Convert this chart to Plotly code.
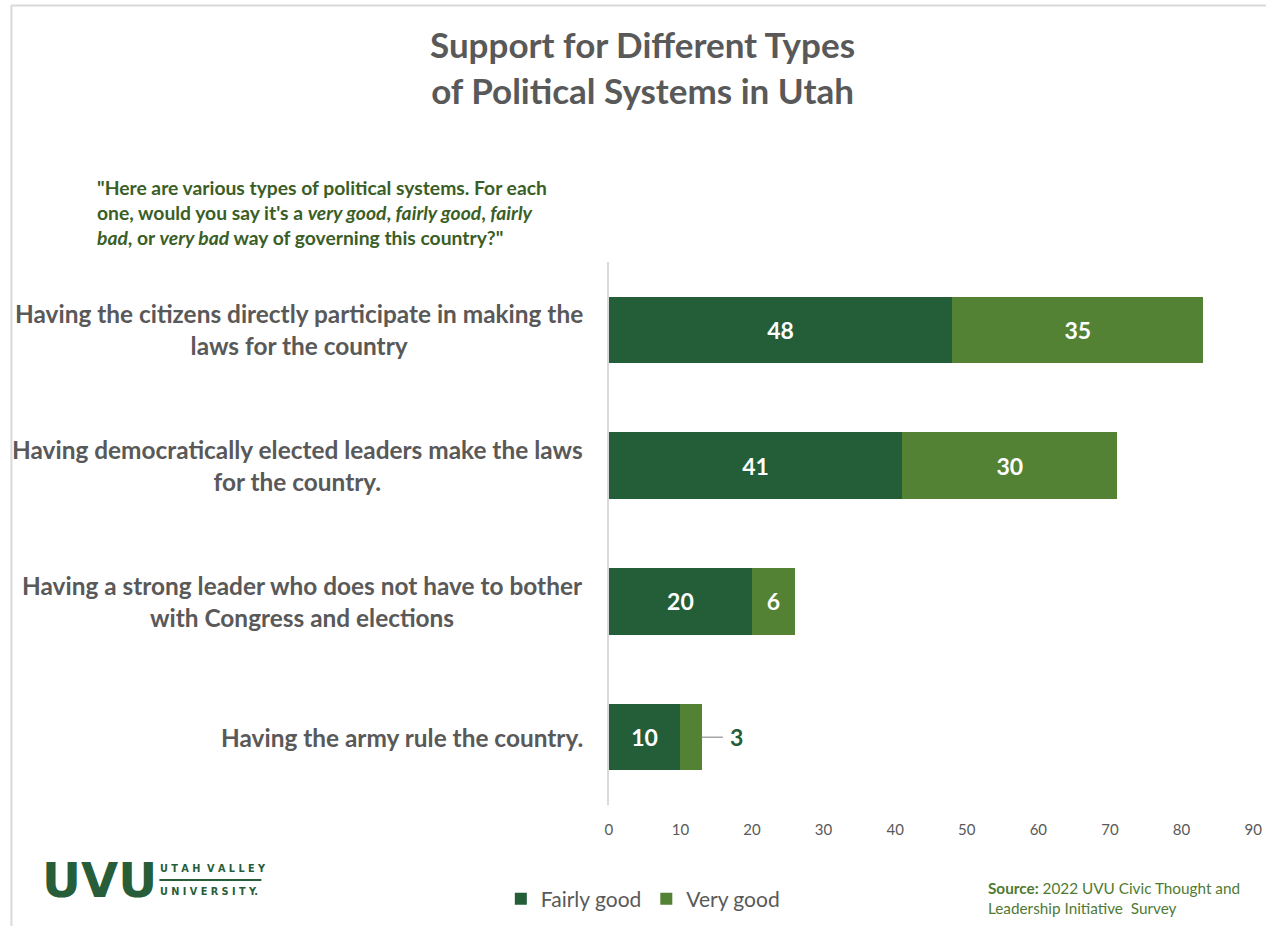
import plotly.graph_objects as go

categories = [
    "Having the citizens directly participate in making the<br>laws for the country",
    "Having democratically elected leaders make the laws<br>for the country.",
    "Having a strong leader who does not have to bother<br>with Congress and elections",
    "Having the army rule the country.",
]
fairly_good = [48, 41, 20, 10]
very_good = [35, 30, 6, 3]
series_names = ["Fairly good", "Very good"]
x_ticks = [0, 10, 20, 30, 40, 50, 60, 70, 80, 90]

DARK = "#245E39"
LIGHT = "#548235"
GREY = "#595959"
FONT = "Lato"
W, H = 1278, 926

fig = go.Figure()
fig.add_trace(go.Bar(
    y=categories, x=fairly_good, orientation="h", name=series_names[0],
    marker=dict(color=DARK, line=dict(width=0)),
    text=[str(v) for v in fairly_good], textposition="inside", insidetextanchor="middle",
    textfont=dict(family=FONT, size=23, color="white", weight="bold"),
    width=0.49,
))
vg_text = [str(v) if v >= 5 else "" for v in very_good]
fig.add_trace(go.Bar(
    y=categories, x=very_good, orientation="h", name=series_names[1],
    marker=dict(color=LIGHT, line=dict(width=0)),
    text=vg_text, textposition="inside", insidetextanchor="middle",
    textfont=dict(family=FONT, size=23, color="white", weight="bold"),
    width=0.49,
))

annotations = []
# small-value callout
for cat, f, v in zip(categories, fairly_good, very_good):
    if v < 5:
        annotations.append(dict(
            x=f + v, y=cat, xref="x", yref="y", text="<b>%d</b>" % v,
            showarrow=True, arrowhead=0, arrowwidth=1.5, arrowcolor="#a6a6a6",
            ax=35, ay=0, standoff=0, borderpad=7,
            font=dict(family=FONT, size=23, color=DARK),
        ))

# category labels
for cat in categories:
    annotations.append(dict(
        x=587 / W, y=cat, xref="paper", yref="y", text="<b>%s</b>" % cat,
        showarrow=False, xanchor="right", align="center",
        font=dict(family=FONT, size=24.4, color=GREY),
    ))

# title
annotations.append(dict(
    x=645 / W, y=1 - 67 / H, xref="paper", yref="paper",
    text="<b>Support for Different Types<br>of Political Systems in Utah</b>",
    showarrow=False, xanchor="center", yanchor="middle", align="center",
    font=dict(family=FONT, size=35, color=GREY),
))
# question
annotations.append(dict(
    x=92 / W, y=1 - 213 / H, xref="paper", yref="paper",
    text=("<b>\"Here are various types of political systems. For each<br>"
          "one, would you say it's a <i>very good</i>, <i>fairly good</i>, <i>fairly</i><br>"
          "<i>bad</i>, or <i>very bad</i> way of governing this country?\"</b>"),
    showarrow=False, xanchor="left", yanchor="middle", align="left",
    font=dict(family=FONT, size=19.3, color="#3A5E26"),
))
# source
annotations.append(dict(
    x=992 / W, y=1 - 898 / H, xref="paper", yref="paper",
    text="<b>Source:</b> 2022 UVU Civic Thought and<br>Leadership Initiative  Survey",
    showarrow=False, xanchor="left", yanchor="middle", align="left",
    font=dict(family=FONT, size=15.3, color="#4F7A34"),
))
# logo
annotations.append(dict(
    x=36 / W, y=1 - 880 / H, xref="paper", yref="paper",
    text="<b>UVU</b>", showarrow=False, xanchor="left", yanchor="middle",
    font=dict(family="DejaVu Sans", size=48, color="#275D38"),
))
annotations.append(dict(
    x=156 / W, y=1 - 868 / H, xref="paper", yref="paper",
    text="<b>U T A H  V A L L E Y</b>", showarrow=False, xanchor="left", yanchor="middle",
    font=dict(family="DejaVu Sans Condensed", size=10.8, color="#275D38"),
))
annotations.append(dict(
    x=156 / W, y=1 - 891 / H, xref="paper", yref="paper",
    text="<b>U N I V E R S I T Y.</b>", showarrow=False, xanchor="left", yanchor="middle",
    font=dict(family="DejaVu Sans Condensed", size=10.8, color="#275D38"),
))

shapes = [
    dict(type="line", xref="paper", yref="paper", x0=7.5 / W, x1=7.5 / W, y0=0, y1=1 - 5.5 / H,
         line=dict(color="#d9d9d9", width=2)),
    dict(type="line", xref="paper", yref="paper", x0=7 / W, x1=1275 / W, y0=1 - 5.5 / H, y1=1 - 5.5 / H,
         line=dict(color="#d9d9d9", width=2)),
    dict(type="line", xref="paper", yref="paper", x0=157 / W, x1=260 / W, y0=1 - 880 / H, y1=1 - 880 / H,
         line=dict(color="#275D38", width=2)),
]

fig.update_layout(
    width=W, height=H,
    barmode="stack",
    margin=dict(l=0, r=0, t=0, b=0),
    paper_bgcolor="white", plot_bgcolor="white",
    font=dict(family=FONT, color=GREY),
    xaxis=dict(domain=[611 / W, 1262 / W], range=[0, 90], tickvals=x_ticks,
               showgrid=False, zeroline=False, showline=False, ticks="",
               ticklabelstandoff=14,
               tickfont=dict(family=FONT, size=15, color=GREY)),
    yaxis=dict(domain=[1 - 805 / H, 1 - 262 / H], categoryorder="array",
               categoryarray=categories, autorange="reversed",
               showticklabels=False, showgrid=False, zeroline=False,
               showline=True, linecolor="#d9d9d9", linewidth=1.5, ticks=""),
    legend=dict(orientation="h", x=0.505, xanchor="center", y=1 - 899 / H, yanchor="middle",
                font=dict(family=FONT, size=21, color=GREY), traceorder="normal",
                itemwidth=30),
    showlegend=True,
    annotations=annotations,
    shapes=shapes,
)

fig.write_html("out.html")
